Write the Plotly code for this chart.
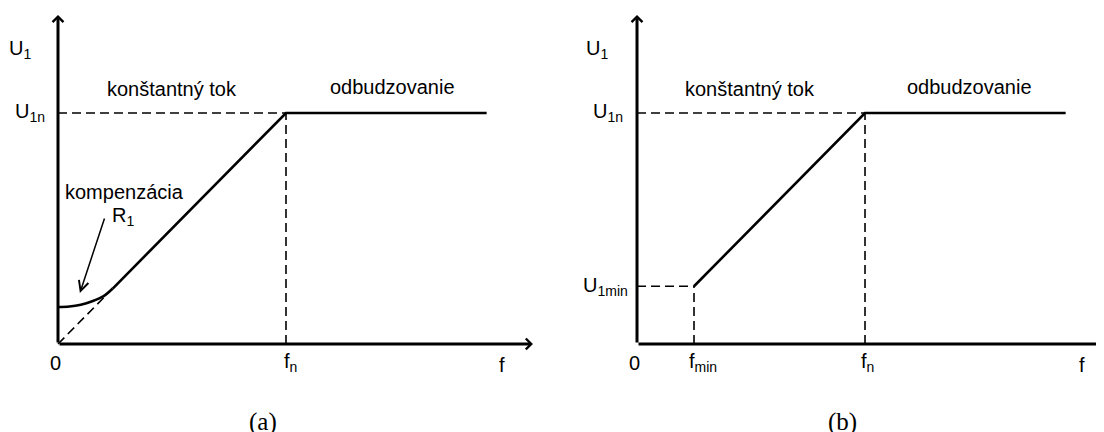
import plotly.graph_objects as go

# data units: f / f_n on x, U_1 / U_1n on y
f_n = 1.0
u_n = 1.0
f_end = 1.88          # end of the flat (field weakening) part
f_tip = 2.083         # x-axis arrow tip
u_tip = 1.424         # y-axis arrow tip

# panel (a): IR compensation near zero frequency
comp_f = [0.0, 0.05, 0.10, 0.15, 0.20, 0.24]
comp_u = [0.160, 0.162, 0.170, 0.185, 0.207, 0.24]
line_a_f = [0.24, f_n, f_end]
line_a_u = [0.24, u_n, u_n]
dash_a_f = [0.0, 0.206]
dash_a_u = [0.0, 0.206]

# panel (b): minimum frequency / voltage
f_min = 0.25
u_min = 0.25
line_b_f = [f_min, f_n, f_end]
line_b_u = [u_min, u_n, u_n]

FONT = "Liberation Sans"
BLACK = "#000000"
DASH = "9px,5px"

fig = go.Figure()


def solid(x, y, xa, ya, shape="linear"):
    fig.add_trace(go.Scatter(x=x, y=y, mode="lines", xaxis=xa, yaxis=ya, showlegend=False,
                             line=dict(color=BLACK, width=2.6, shape=shape), hoverinfo="skip"))


def dashed(x, y, xa, ya):
    fig.add_trace(go.Scatter(x=x, y=y, mode="lines", xaxis=xa, yaxis=ya, showlegend=False,
                             line=dict(color=BLACK, width=1.6, dash=DASH), hoverinfo="skip"))


# panel (a)
solid(comp_f, comp_u, "x", "y", shape="spline")
solid(line_a_f, line_a_u, "x", "y")
dashed(dash_a_f, dash_a_u, "x", "y")
dashed([0, f_n], [u_n, u_n], "x", "y")
dashed([f_n, f_n], [0, u_n], "x", "y")

# panel (b)
solid(line_b_f, line_b_u, "x2", "y2")
dashed([0, f_n], [u_n, u_n], "x2", "y2")
dashed([f_n, f_n], [0, u_n], "x2", "y2")
dashed([0, f_min], [u_min, u_min], "x2", "y2")
dashed([f_min, f_min], [0, u_min], "x2", "y2")

annotations = []


def arrow(x, y, ax, ay, xr, yr, width=3, head=4, size=0.7):
    annotations.append(dict(x=x, y=y, ax=ax, ay=ay, xref=xr, yref=yr, axref=xr, ayref=yr,
                            text="", showarrow=True, arrowhead=head, arrowwidth=width,
                            arrowsize=size, arrowcolor=BLACK, standoff=0, startstandoff=0))


def label(text, x, y, xr, yr, xanchor="center", size=20, family=FONT):
    annotations.append(dict(x=x, y=y, xref=xr, yref=yr, text=text, showarrow=False,
                            xanchor=xanchor, yanchor="middle",
                            font=dict(family=family, size=size, color=BLACK)))


for xr, yr in (("x", "y"), ("x2", "y2")):
    arrow(f_tip, 0, 0, 0, xr, yr)
    arrow(0, u_tip, 0, 0, xr, yr)

# compensation pointer
arrow(0.096, 0.221, 0.206, 0.55, "x", "y", width=1.5, head=5, size=1.3)

# texts, panel (a)
label("U<sub>1</sub>", -0.11, 1.277, "x", "y", xanchor="right")
label("U<sub>1n</sub>", -0.048, 1.0, "x", "y", xanchor="right")
label("konštantný tok", 0.50, 1.104, "x", "y")
label("odbudzovanie", 1.465, 1.113, "x", "y")
label("kompenzácia", 0.29, 0.658, "x", "y")
label("R<sub>1</sub>", 0.285, 0.55, "x", "y")
label("0", -0.013, -0.082, "x", "y")
label("f<sub>n</sub>", 1.02, -0.082, "x", "y")
label("f", 1.947, -0.09, "x", "y")
label("(a)", 0.90, -0.338, "x", "y", size=25, family="Liberation Serif")

# texts, panel (b)
label("U<sub>1</sub>", -0.118, 1.277, "x2", "y2", xanchor="right")
label("U<sub>1n</sub>", -0.053, 1.0, "x2", "y2", xanchor="right")
label("U<sub>1min</sub>", -0.03, u_min, "x2", "y2", xanchor="right")
label("konštantný tok", 0.496, 1.104, "x2", "y2")
label("odbudzovanie", 1.46, 1.113, "x2", "y2")
label("0", -0.01, -0.082, "x2", "y2")
label("f<sub>min</sub>", 0.29, -0.082, "x2", "y2")
label("f<sub>n</sub>", 1.013, -0.082, "x2", "y2")
label("f", 1.95, -0.09, "x2", "y2")
label("(b)", 0.90, -0.338, "x2", "y2", size=25, family="Liberation Serif")

# the page body keeps its default 8px margin, so the figure is 8px smaller
hidden = dict(visible=False, showgrid=False, zeroline=False, fixedrange=True)
fig.update_layout(
    width=1096, height=424,
    margin=dict(l=0, r=0, t=0, b=0),
    paper_bgcolor="white", plot_bgcolor="white",
    xaxis=dict(domain=[0, 0.5], range=[-0.2193, 2.1842], **hidden),
    xaxis2=dict(domain=[0.5, 1], range=[-0.3553, 2.0482], **hidden),
    yaxis=dict(domain=[0, 1], range=[-0.381, 1.4545], anchor="x", **hidden),
    yaxis2=dict(domain=[0, 1], range=[-0.381, 1.4545], anchor="x2", **hidden),
    annotations=annotations,
)

fig.write_html("out.html")
